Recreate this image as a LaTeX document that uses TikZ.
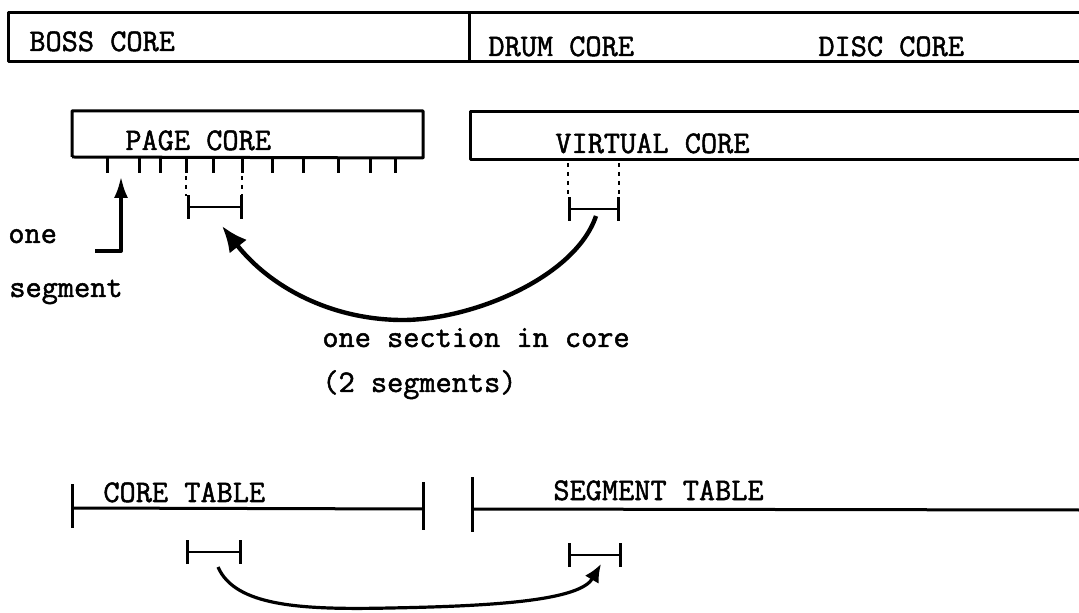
\documentclass[tikz,border=0pt]{standalone}
\usepackage{fontspec}
\usetikzlibrary{arrows.meta}
\newfontfamily\typew{Latin Modern Mono}[FakeBold=1.6]

\begin{document}
\begin{tikzpicture}[x=0.5pt,y=-0.5pt,
  font=\typew\fontsize{15.7}{18}\selectfont,
  line join=round,
  band/.style={line width=1.5pt},
  boxline/.style={line width=1.5pt},
  tick/.style={line width=1.5pt},
  dotline/.style={line width=1.3pt,dash pattern=on 2pt off 2.5pt},
  brk/.style={line width=1.4pt,{Bar[width=12pt]}-{Bar[width=12pt]}},
  lbl/.style={anchor=base west,inner sep=0pt},
  bigarrow/.style={line width=2.2pt,-{Latex[length=13pt,width=11pt]}},
  segarrow/.style={line width=2pt,-{Latex[length=11pt,width=7pt]}},
  smallarrow/.style={line width=1.6pt,-{Latex[length=9pt,width=8pt]}}]
  \useasboundingbox (0,0) rectangle (1079,613);

  % ===== top band: boss / drum / disc =====
  \draw[band] (1079,13) -- (8,13) -- (8,62) -- (1079,62);
  \draw[band] (469,13) -- (469,62);
  \node[lbl] (boss) at (29,51) {BOSS CORE};
  \node[lbl] (drum) at (488,56) {DRUM CORE};
  \node[lbl] (disc) at (818,56) {DISC CORE};

  % ===== page core with its segments =====
  \draw[boxline] (72,157) -- (72,111) -- (423,111) -- (423,158) -- (72,157);
  \node[lbl] (page) at (125,150) {PAGE CORE};
  \foreach \tx in {107,139,160,186,213,242,272,303,338,370,395}
    \draw[tick] (\tx,157) -- (\tx,173);
  \foreach \tx in {186,242}
    \draw[dotline] (\tx,176) -- (\tx,196);
  \draw[brk] (187,207) -- (243,207);
  \coordinate (psec) at (222,226);

  % ===== virtual core =====
  \draw[boxline] (1079,112) -- (470,112) -- (470,160) -- (1079,160);
  \node[lbl] (virt) at (555,153) {VIRTUAL CORE};
  \foreach \tx in {568,619}
    \draw[dotline] (\tx,163) -- (\tx,196);
  \draw[brk] (568,209) -- (620,209);
  \coordinate (vsec) at (596,216);

  % ===== one segment =====
  \node[lbl] (one) at (8,243) {one};
  \node[lbl] (seg) at (9,297) {segment};
  \coordinate (segfoot) at (95,251);
  \coordinate (segtip) at (121,176);
  \draw[segarrow] (segfoot) -- (segfoot -| segtip) -- (segtip);

  % ===== section brought into core =====
  \draw[bigarrow] (vsec) .. controls (575,278) and (470,321) .. (400,320)
    .. controls (330,319) and (270,287) .. (psec);
  \node[lbl] (sect) at (322,347) {one section in core};
  \node[lbl] (twoseg) at (322,392) {(2 segments)};

  % ===== core table / segment table =====
  \draw[boxline] (72,484) -- (72,528);
  \draw[boxline] (72,508) -- (423,509);
  \draw[boxline] (423,482) -- (423,530);
  \node[lbl] (ctab) at (103,502) {CORE TABLE};
  \draw[boxline] (472,477) -- (472,532);
  \draw[boxline] (472,509) -- (1079,510);
  \node[lbl] (stab) at (553,500) {SEGMENT TABLE};
  \draw[brk] (186,552) -- (242,552);
  \draw[brk] (568,555) -- (622,555);
  \coordinate (ctsec) at (218,567);
  \coordinate (stsec) at (601,564);
  \draw[smallarrow] (ctsec) .. controls (235,606) and (300,610) .. (390,608)
    .. controls (500,606) and (580,600) .. (stsec);
\end{tikzpicture}
\end{document}
